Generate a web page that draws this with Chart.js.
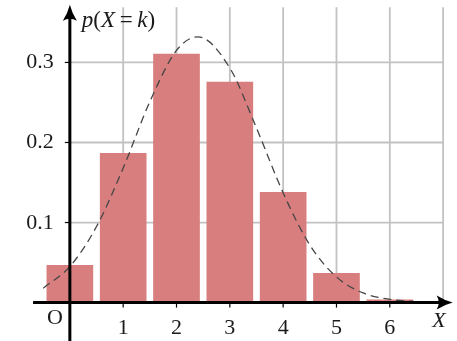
<!DOCTYPE html>
<html>
<head>
<meta charset="utf-8">
<script src="https://cdn.jsdelivr.net/npm/chart.js@4"></script>
<style>
	html, body { margin: 0; padding: 0; background: #fff; }
	#wrap { width: 457px; height: 341px; position: relative; }
</style>
</head>
<body>
<div id="wrap"><canvas id="chart"></canvas></div>
<script>
// values
const kValues = [0, 1, 2, 3, 4, 5, 6]
const probs = [0.047, 0.187, 0.311, 0.276, 0.138, 0.037, 0.004]
const curveX = [-0.5, 0, 0.5, 1, 1.5, 2, 2.4, 3, 3.5, 4, 4.5, 5, 5.5, 6, 6.5]
const curveY = [0.018, 0.045, 0.095, 0.168, 0.251, 0.315, 0.332, 0.293, 0.218, 0.137, 0.072, 0.032, 0.012, 0.004, 0.001]
const xTicks = [1, 2, 3, 4, 5, 6]
const xGrid = [1, 2, 3, 4, 5, 6, 7]
const yTicks = [0.1, 0.2, 0.3]
const yTickLabels = ["0.1", "0.2", "0.3"]
const gridTop = 0.369
const xAxisStart = -0.69
const xArrowTip = 7.18
const yArrowTip = 0.372

const serif = '"Liberation Serif", "DejaVu Serif", serif'

function arrowHead(ctx, x, y, dir) {
	// dir: "right" or "up"
	ctx.save()
	ctx.translate(x, y)
	if (dir === "up") ctx.rotate(-Math.PI / 2)
	ctx.beginPath()
	ctx.moveTo(0, 0)
	ctx.quadraticCurveTo(-8, -2, -16, -7)
	ctx.quadraticCurveTo(-12, 0, -16, 7)
	ctx.quadraticCurveTo(-8, 2, 0, 0)
	ctx.closePath()
	ctx.fillStyle = "#000"
	ctx.fill()
	ctx.restore()
}

function drawMixed(ctx, parts, x, y, size) {
	parts.forEach(([txt, italic]) => {
		ctx.font = (italic ? "italic " : "") + size + "px " + serif
		ctx.fillText(txt, x, y)
		x += ctx.measureText(txt).width
	})
}

const axesPlugin = {
	id: "mathAxes",
	beforeDatasetsDraw(chart) {
		const {ctx, scales: {x, y}} = chart
		ctx.save()
		ctx.strokeStyle = "#c2c2c2"
		ctx.lineWidth = 1.8
		xGrid.forEach(v => {
			ctx.beginPath()
			ctx.moveTo(x.getPixelForValue(v), y.getPixelForValue(gridTop))
			ctx.lineTo(x.getPixelForValue(v), y.getPixelForValue(0))
			ctx.stroke()
		})
		yTicks.forEach(v => {
			ctx.beginPath()
			ctx.moveTo(x.getPixelForValue(0), y.getPixelForValue(v))
			ctx.lineTo(x.getPixelForValue(7), y.getPixelForValue(v))
			ctx.stroke()
		})
		ctx.restore()
	},
	afterDatasetsDraw(chart) {
		const {ctx, scales: {x, y}} = chart
		const x0 = x.getPixelForValue(0)
		const y0 = y.getPixelForValue(0)
		ctx.save()
		ctx.strokeStyle = "#000"
		ctx.lineWidth = 3
		// x axis
		ctx.beginPath()
		ctx.moveTo(x.getPixelForValue(xAxisStart), y0)
		ctx.lineTo(x.getPixelForValue(xArrowTip) - 8, y0)
		ctx.stroke()
		// y axis
		ctx.beginPath()
		ctx.moveTo(x0, y.bottom)
		ctx.lineTo(x0, y.getPixelForValue(yArrowTip) + 8)
		ctx.stroke()
		arrowHead(ctx, x.getPixelForValue(xArrowTip), y0, "right")
		arrowHead(ctx, x0, y.getPixelForValue(yArrowTip), "up")

		// small ticks
		ctx.lineWidth = 1.2
		xTicks.forEach(v => {
			ctx.beginPath()
			ctx.moveTo(x.getPixelForValue(v), y0)
			ctx.lineTo(x.getPixelForValue(v), y0 + 5)
			ctx.stroke()
		})
		yTicks.forEach(v => {
			ctx.beginPath()
			ctx.moveTo(x0 - 5, y.getPixelForValue(v))
			ctx.lineTo(x0, y.getPixelForValue(v))
			ctx.stroke()
		})

		// labels
		ctx.fillStyle = "#1a1a1a"
		ctx.textBaseline = "alphabetic"
		ctx.font = "22px " + serif
		ctx.textAlign = "center"
		xTicks.forEach(v => {
			ctx.fillText(String(v), x.getPixelForValue(v), y0 + 31)
		})
		ctx.fillText("O", x0 - 15, y0 + 21)
		ctx.textAlign = "right"
		yTicks.forEach((v, i) => {
			ctx.fillText(yTickLabels[i], x0 - 16, y.getPixelForValue(v) + 6)
		})
		ctx.textAlign = "left"
		drawMixed(ctx, [["p", true], ["(", false], ["X", true], ["\u2009=\u2009", false], ["k", true], [")", false]], x0 + 12, 27, 23)
		ctx.font = "italic 22px " + serif
		ctx.fillText("X", x.getPixelForValue(7) - 11, y0 + 24)
		ctx.restore()
	}
}

new Chart(document.getElementById("chart"), {
	data: {
		datasets: [{
			type: "line",
			label: "normal",
			data: curveX.map((v, i) => ({x: v, y: curveY[i]})),
			borderColor: "#454545",
			borderWidth: 1.3,
			borderDash: [8, 5],
			pointRadius: 0,
			cubicInterpolationMode: "monotone",
			fill: false,
			order: 0,
		}, {
			type: "bar",
			label: "p",
			data: kValues.map((k, i) => ({x: k, y: probs[i]})),
			backgroundColor: "rgb(216,126,126)",
			borderWidth: 0,
			barPercentage: 0.875,
			categoryPercentage: 1,
			order: 1,
		}],
	},
	options: {
		responsive: true,
		maintainAspectRatio: false,
		animation: false,
		layout: { padding: 0 },
		plugins: {
			legend: { display: false },
			tooltip: { enabled: false },
		},
		scales: {
			x: { type: "linear", min: -1.31, max: 7.26, offset: false, display: false },
			y: { type: "linear", min: -0.048, max: 0.378, display: false },
		},
	},
	plugins: [axesPlugin],
})
</script>
</body>
</html>
